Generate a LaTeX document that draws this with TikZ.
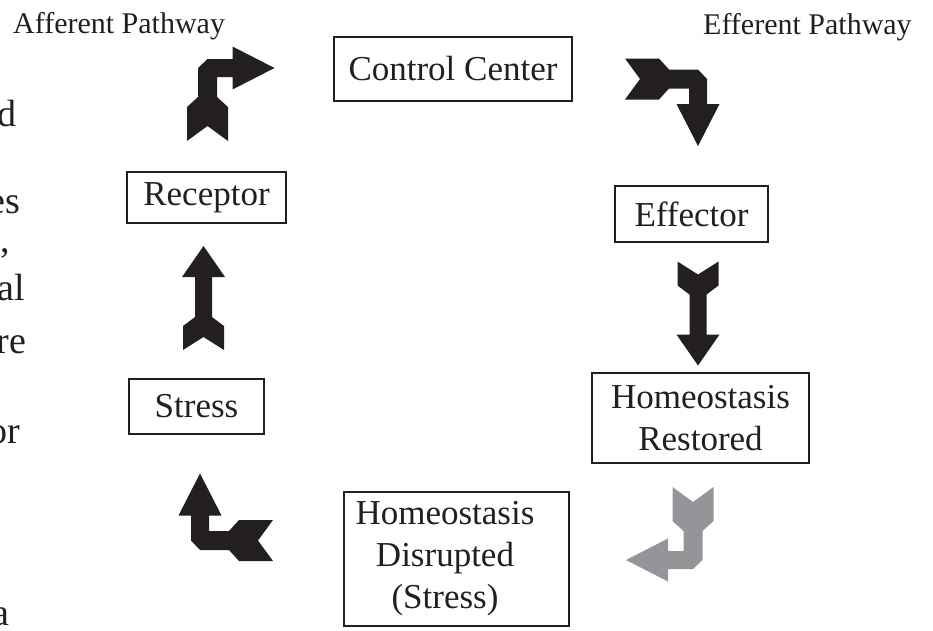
\documentclass[tikz,border=0pt]{standalone}
\usepackage{fontspec}
\setmainfont{Liberation Serif}
\definecolor{ink}{RGB}{35,31,32}
\definecolor{shade}{RGB}{147,149,152}
\begin{document}
\begin{tikzpicture}[x=1pt, y=-1pt,
	box/.style={draw=ink, line width=2.2pt, inner sep=0pt, text=ink, align=center, font=\fontsize{35}{42}\selectfont},
	tag/.style={inner sep=0pt, text=ink, anchor=base west, font=\fontsize{30}{36}\selectfont},
	frag/.style={inner sep=0pt, text=ink, anchor=base east, font=\fontsize{38}{45}\selectfont},
	elbowarrow/.pic={\path[pic actions] (0,58) -- (-20.5,73) -- (-20.5,39) -- (-9.5,29) -- (-9.5,0) -- (0,-9) -- (25,-9) -- (25,-21.5) -- (67,0) -- (25,21.5) -- (25,9) -- (9.5,9) -- (9.5,29) -- (20.5,39) -- (20.5,73) -- cycle;},
	shaftarrow/.pic={\path[pic actions] (0,39) -- (-20.5,52) -- (-20.5,28) -- (-8.5,19) -- (-8.5,-21) -- (-21.5,-21) -- (0,-52) -- (21.5,-21) -- (8.5,-21) -- (8.5,19) -- (20.5,28) -- (20.5,52) -- cycle;}]
	\useasboundingbox (0,0) rectangle (933,630);
	\foreach \t/\x/\y [count=\i] in {d/16.7/126, es/20/213, {,}/10/252, al/25/300, re/26.7/353, or/20.7/443, a/9.3/625}
		\node[frag] (frag\i) at (\x,\y) {\t};
	\node[tag] (afferent) at (13,33.3) {Afferent Pathway};
	\node[tag] (efferent) at (703,34.3) {Efferent Pathway};
	\node[box, minimum width=238pt, minimum height=64pt] (control) at (453,69) {Control Center};
	\node[box, minimum width=159pt, minimum height=51pt] (receptor) at (206.5,197.5) {Receptor};
	\node[box, minimum width=135pt, minimum height=55pt] (stress) at (196.5,406.5) {Stress};
	\node[box, minimum width=153pt, minimum height=56pt] (effector) at (691.5,214) {Effector};
	\node[box, minimum width=217pt, minimum height=90pt] (restored) at (700.5,418) {Homeostasis\\Restored};
	\node[box, minimum width=225pt, minimum height=134pt] (disrupted) at (456.5,559) {};
	\node[box, draw=none] (disruptedtext) at (445,559) {Homeostasis\\Disrupted\\(Stress)};
	\pic[fill=ink] (toctrl) at (207.5,68) {elbowarrow};
	\pic[fill=ink, rotate=-90] (fromctrl) at (698,79) {elbowarrow};
	\pic[fill=shade, rotate=180] (back) at (693,560) {elbowarrow};
	\pic[fill=ink, rotate=90] (again) at (200,540.5) {elbowarrow};
	\pic[fill=ink] (sense) at (203.5,298) {shaftarrow};
	\pic[fill=ink, rotate=180] (act) at (698,313.5) {shaftarrow};
\end{tikzpicture}
\end{document}
